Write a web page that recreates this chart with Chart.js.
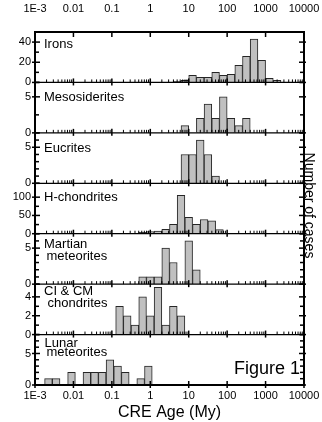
<!DOCTYPE html>
<html>
<head>
  <title>CRE ages</title>
  <script src="https://cdn.jsdelivr.net/npm/chart.js@4"></script>
  <style>
body { margin: 0; background: #fff; }
#chart { display: block; }
  </style>
</head>
<body>
  <canvas id="chart" width="322" height="422"></canvas>
  <script>
// x values are bin centres in log10(age / My), every bin is 0.2 decades wide
var panelNames = [['Irons'], ['Mesosiderites'], ['Eucrites'], ['H-chondrites'],
  ['Martian', 'meteorites'], ['CI & CM', 'chondrites'], ['Lunar', 'meteorites']];

var ironsBins = [0.7, 0.9, 1.1, 1.3, 1.5, 1.7, 1.9, 2.1, 2.3, 2.5, 2.7, 2.9, 3.1, 3.3];
var ironsCounts = [1, 2, 7, 5, 5, 10, 7, 8, 17, 26, 43, 22, 4, 2];
var mesoBins = [0.9, 1.3, 1.5, 1.7, 1.9, 2.1, 2.3, 2.5];
var mesoCounts = [1, 2, 4, 2, 5, 2, 1, 2];
var eucriteBins = [0.9, 1.1, 1.3, 1.5, 1.7];
var eucriteCounts = [4, 4, 6, 4, 1];
var hBins = [-0.2, 0, 0.2, 0.4, 0.6, 0.8, 1.0, 1.2, 1.4, 1.6, 1.8];
var hCounts = [4, 6, 7, 12, 26, 105, 45, 26, 39, 35, 11];
var martianBins = [-0.2, 0, 0.2, 0.4, 0.6, 1.0, 1.2];
var martianCounts = [1, 1, 1, 5, 3, 6, 2];
var cicmBins = [-0.8, -0.6, -0.4, -0.2, 0, 0.2, 0.4, 0.6, 0.8];
var cicmCounts = [3, 2, 1, 4, 2, 5, 1, 3, 2];
var lunarBins = [-2.65, -2.45, -2.05, -1.65, -1.45, -1.25, -1.05, -0.85, -0.65, -0.25, -0.05];
var lunarCounts = [1, 1, 2, 2, 2, 2, 4, 3, 2, 1, 3];

// y axis of each panel
var yMax = [50, 7, 7, 138, 7, 5.35, 8];
var yStep = [10, 2.5, 1, 25, 1, 1, 1];
var yLabelled = [[0, 20, 40], [0, 5], [0, 5], [0, 50, 100], [0, 5], [0, 2, 4], [0, 5]];

var decadeLabels = ['1E-3', '0.01', '0.1', '1', '10', '100', '1000', '10000'];

var allBins = [ironsBins, mesoBins, eucriteBins, hBins, martianBins, cicmBins, lunarBins];
var allCounts = [ironsCounts, mesoCounts, eucriteCounts, hCounts, martianCounts, cicmCounts, lunarCounts];

// label placement inside each panel (offset from panel top, indent from left frame)
var labelDy = [[12], [14.5], [15.5], [14], [11, 22.5], [7.5, 19.5], [8.5, 17.5]];
var labelDx = [[9], [9], [9], [9], [9, 11.5], [9, 12.5], [9.5, 11.5]];

Chart.defaults.font.family = 'Arial, "Liberation Sans", Helvetica, sans-serif';
Chart.defaults.color = '#000';

var datasets = [];
var scales = {};
var noGrid = { display: false, drawTicks: false };

// the decade labels may hang over the plot edge, so the axis asks for no side padding
function fixX(height) {
  return function(s) {
    s.height = height;
    s.paddingLeft = 0;
    s.paddingRight = 0;
  };
}

scales.xt = {
  type: 'linear', position: 'top', min: -3, max: 4, offset: false,
  grid: noGrid, border: { display: false },
  ticks: { stepSize: 1, padding: 16, font: { size: 11 }, maxRotation: 0,
    callback: function(v) { return decadeLabels[v + 3]; } },
  afterFit: fixX(32)
};

// panels are stacked top-down in reverse definition order
for (var i = panelNames.length - 1; i >= 0; i--) {
  (function(i) {
    scales['y' + i] = {
      type: 'linear', position: 'left', stack: 'panels', stackWeight: 1,
      min: 0, max: yMax[i],
      grid: noGrid, border: { display: false },
      ticks: { stepSize: yStep[i], autoSkip: false, padding: 4, font: { size: 11 },
        callback: function(v) { return yLabelled[i].indexOf(v) >= 0 ? String(v) : ''; } },
      afterFit: function(s) { s.width = 35; }
    };
    scales['x' + i] = {
      type: 'linear', position: 'bottom', display: false, min: -3, max: 4, offset: false,
      ticks: { stepSize: 1 }
    };
  })(i);
}

scales.xb = {
  type: 'linear', position: 'bottom', min: -3, max: 4, offset: false,
  grid: noGrid, border: { display: false },
  ticks: { stepSize: 1, padding: 4, font: { size: 11 }, maxRotation: 0,
    callback: function(v) { return decadeLabels[v + 3]; } },
  title: { display: true, text: 'CRE Age (My)', font: { size: 16 }, padding: { top: 0, bottom: 0 } },
  afterFit: fixX(37)
};

for (var p = 0; p < panelNames.length; p++) {
  datasets.push({
    label: panelNames[p].join(' '),
    xAxisID: 'x' + p,
    yAxisID: 'y' + p,
    data: allBins[p].map(function(b, k) { return { x: b, y: allCounts[p][k] }; }),
    backgroundColor: '#c0c0c0',
    borderColor: '#262626',
    borderWidth: 1
  });
}

function line(ctx, x1, y1, x2, y2) {
  ctx.beginPath();
  ctx.moveTo(x1, y1);
  ctx.lineTo(x2, y2);
  ctx.stroke();
}

var framePlugin = {
  id: 'frame',
  afterDraw: function(chart) {
    var ctx = chart.ctx, a = chart.chartArea;
    var xs = chart.scales.xb;
    ctx.save();
    ctx.strokeStyle = '#000';
    ctx.fillStyle = '#000';

    for (var i = 0; i < panelNames.length; i++) {
      var s = chart.scales['y' + i];
      // y ticks, left and right
      s.ticks.forEach(function(t) {
        var y = s.getPixelForValue(t.value);
        var major = t.label !== '';
        ctx.lineWidth = 1.5;
        if (major) {
          line(ctx, a.left - 3, y, a.left + 5, y);
          line(ctx, a.right - 5, y, a.right + 2, y);
        } else {
          line(ctx, a.left - 1, y, a.left + 4, y);
          line(ctx, a.right - 4, y, a.right + 1, y);
        }
      });
      // bottom edge of panel with log ticks
      var yb = s.bottom;
      if (i < panelNames.length - 1) {
        ctx.lineWidth = 1.2;
        line(ctx, a.left, yb, a.right, yb);
        ctx.lineWidth = 1;
        for (var d = -3; d < 4; d++) {
          for (var k = 2; k < 10; k++) {
            var xm = xs.getPixelForValue(d + Math.log10(k));
            line(ctx, xm, yb, xm, yb - 3);
          }
        }
      }
      ctx.lineWidth = 1.5;
      xs.ticks.forEach(function(t) {
        var xp = xs.getPixelForValue(t.value);
        line(ctx, xp, yb - 4, xp, yb + 3);
      });
      // panel label
      ctx.font = '13px Arial, "Liberation Sans", sans-serif';
      ctx.textAlign = 'left';
      ctx.textBaseline = 'middle';
      panelNames[i].forEach(function(txt, j) {
        ctx.fillText(txt, a.left + labelDx[i][j], s.top + labelDy[i][j]);
      });
    }

    // top axis ticks
    ctx.lineWidth = 1.5;
    chart.scales.xt.ticks.forEach(function(t) {
      var xp = chart.scales.xt.getPixelForValue(t.value);
      line(ctx, xp, a.top, xp, a.top + 5);
    });

    // outer frame
    ctx.lineWidth = 2;
    ctx.strokeRect(a.left, a.top, a.right - a.left, a.bottom - a.top);

    // right side title
    ctx.save();
    ctx.font = '14px Arial, "Liberation Sans", sans-serif';
    ctx.textAlign = 'center';
    ctx.textBaseline = 'middle';
    ctx.translate(a.right + 5, (a.top + a.bottom) / 2 - 3);
    ctx.rotate(Math.PI / 2);
    ctx.fillText('Number of cases', 0, 0);
    ctx.restore();

    // figure tag
    var lunar = chart.scales['y' + (panelNames.length - 1)];
    ctx.font = '18px Arial, "Liberation Sans", sans-serif';
    ctx.textAlign = 'right';
    ctx.textBaseline = 'middle';
    ctx.fillText('Figure 1', a.right - 4, lunar.top + 34);
    ctx.restore();
  }
};

new Chart(document.getElementById('chart'), {
  type: 'bar',
  data: { datasets: datasets },
  options: {
    responsive: false,
    animation: false,
    layout: { padding: { left: 0, top: 0, bottom: 0, right: 18 } },
    datasets: {
      bar: { grouped: false, barPercentage: 1, categoryPercentage: 1 }
    },
    plugins: { legend: { display: false }, tooltip: { enabled: false } },
    scales: scales
  },
  plugins: [framePlugin]
});
  </script>
</body>
</html>
